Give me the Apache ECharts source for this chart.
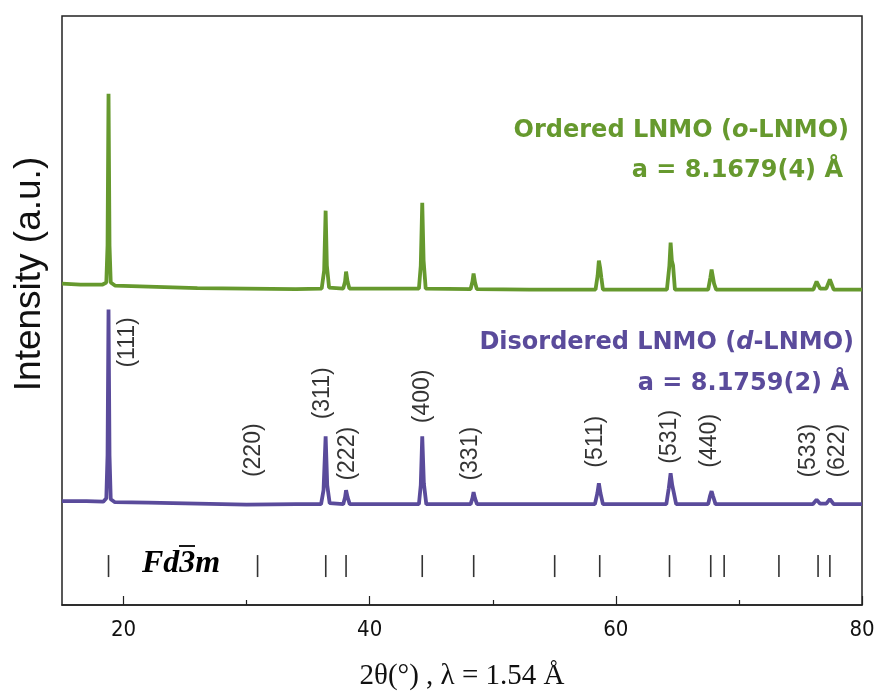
<!DOCTYPE html>
<html>
<head>
<meta charset="utf-8">
<script src="https://cdn.jsdelivr.net/npm/echarts@6/dist/echarts.min.js"></script>
<style>
  html, body { margin: 0; padding: 0; background: #fff; }
  #main { width: 882px; height: 696px; }
</style>
</head>
<body>
<div id="main"></div>
<script>
// XRD patterns, 2theta (deg) vs intensity (a.u., offset already in)
var orderedTheta = [15.0, 16.5, 18.3, 18.6, 18.7, 18.78, 18.86, 18.96, 19.3, 22, 26, 30, 34,
  36.1, 36.3, 36.42, 36.52, 36.7, 37.85, 38.0, 38.08, 38.2, 38.35,
  44.0, 44.15, 44.27, 44.38, 44.55, 48.2, 48.35, 48.44, 48.56, 48.7, 53,
  58.35, 58.52, 58.62, 58.72, 58.82, 58.95, 64.15, 64.35, 64.45, 64.55, 64.65, 64.8,
  67.5, 67.68, 67.78, 67.88, 67.98, 68.15, 72, 76.05, 76.31, 76.6, 77.1, 77.39, 77.7, 80];
var orderedInt = [322, 321, 321, 323, 360, 512, 360, 323, 320, 319, 317.5, 317, 316.5,
  317, 335, 395, 340, 318, 317, 324, 334, 324, 317,
  317, 340, 403, 345, 317, 316.5, 324, 332, 323, 316.5, 316,
  316, 330, 345, 338, 328, 316, 316, 340, 363, 345, 340, 316,
  316, 328, 336, 329, 322, 316, 316, 316, 324, 317, 317, 326, 316, 316];

var disorderedTheta = [15, 17, 18.35, 18.6, 18.7, 18.78, 18.86, 18.96, 19.3, 22, 26, 30, 34,
  36.05, 36.25, 36.42, 36.55, 36.75, 37.85, 38.0, 38.08, 38.2, 38.38,
  44.0, 44.15, 44.27, 44.4, 44.6, 48.2, 48.35, 48.44, 48.55, 48.72,
  58.3, 58.5, 58.62, 58.75, 58.95, 64.1, 64.3, 64.45, 64.58, 64.7, 64.9,
  67.5, 67.65, 67.78, 67.9, 68.1, 76.0, 76.31, 76.6, 77.1, 77.39, 77.7, 80];
var disorderedInt = [104, 104, 103.5, 107, 150, 296, 150, 106, 103, 102.5, 101.5, 100.5, 101,
  101, 115, 169, 120, 102, 101, 108, 115, 108, 101,
  101, 120, 169, 122, 101, 101, 107, 113, 107, 101,
  101, 112, 122, 112, 101, 101, 117, 132, 120, 113, 101,
  101, 109, 114, 109, 101, 101, 105.5, 101.5, 101.5, 106, 101, 101];

// Miller index labels (x, y in axis units)
var hklText = ['(111)', '(220)', '(311)', '(222)', '(400)', '(331)', '(511)', '(531)', '(440)', '(533)', '(622)'];
var hklX = [20.36, 30.6, 36.16, 38.23, 44.29, 48.2, 58.4, 64.4, 67.6, 75.7, 78.0];
var hklY = [263, 155, 212, 151.5, 209, 151.5, 163.5, 168.5, 164.5, 154.5, 154.5];

// Fd-3m reflection positions
var braggPos = [18.78, 30.89, 36.43, 38.08, 44.27, 48.45, 55.03, 58.69, 64.36, 67.71, 68.80, 73.25, 76.43, 77.39];

var majorTicks = [20, 40, 60, 80];
var minorTicks = [30, 50, 70];

var green = '#66992e';
var purple = '#5a4b9b';

function zip(a, b) {
  var out = [];
  for (let i = 0; i < a.length; i++) out.push([a[i], b[i]]);
  return out;
}

var hklData = [];
for (let i = 0; i < hklText.length; i++) hklData.push([hklX[i], hklY[i], hklText[i]]);

var chart = echarts.init(document.getElementById('main'));
var option = {
  animation: false,
  grid: {
    left: 62, right: 20, top: 16, bottom: 90,
    show: true, borderColor: '#222', borderWidth: 1.5
  },
  xAxis: [{
    type: 'value', min: 15, max: 80,
    name: '2θ(°) , λ = 1.54 Å',
    nameLocation: 'middle',
    nameGap: 57,
    nameTextStyle: { fontFamily: 'Liberation Serif', fontSize: 29, color: '#111' },
    axisLine: { show: true, lineStyle: { color: '#222', width: 1.5 } },
    axisTick: { show: true, inside: true, length: 9, customValues: majorTicks, lineStyle: { color: '#222', width: 1.2 } },
    axisLabel: {
      customValues: majorTicks, margin: 14,
      fontFamily: '"Liberation Sans Narrow", "DejaVu Sans Condensed", "Liberation Sans"',
      fontSize: 22, color: '#111'
    },
    splitLine: { show: false }
  }, {
    type: 'value', min: 15, max: 80, position: 'bottom',
    axisLine: { show: false },
    axisTick: { show: true, inside: true, length: 5, customValues: minorTicks, lineStyle: { color: '#222', width: 1.2 } },
    axisLabel: { show: false },
    splitLine: { show: false }
  }],
  yAxis: {
    type: 'value', min: 0, max: 590,
    axisLine: { show: false }, axisTick: { show: false },
    axisLabel: { show: false }, splitLine: { show: false }
  },
  series: [{
    type: 'line', name: 'o-LNMO', data: zip(orderedTheta, orderedInt),
    showSymbol: false, lineStyle: { color: green, width: 3.8 }, z: 3
  }, {
    type: 'line', name: 'd-LNMO', data: zip(disorderedTheta, disorderedInt),
    showSymbol: false, lineStyle: { color: purple, width: 3.8 }, z: 3
  }, {
    type: 'scatter', data: braggPos.map(function (p) { return [p, 39]; }),
    symbol: 'rect', symbolSize: [1.6, 22], itemStyle: { color: '#000' }
  }, {
    type: 'scatter', data: hklData, symbolSize: 0,
    label: {
      show: true, position: 'inside', rotate: 90,
      formatter: function (p) { return p.data[2]; },
      fontFamily: 'Liberation Sans', fontSize: 23, color: '#000'
    }
  }],
  graphic: [{
    type: 'text', x: 30, y: 274, rotation: Math.PI / 2,
    style: { text: 'Intensity (a.u.)', font: '37px "Liberation Sans"', fill: '#111', textAlign: 'center', textVerticalAlign: 'middle' }
  }, {
    type: 'text', x: 849, y: 131,
    style: {
      text: '{b|Ordered LNMO (}{i|o}{b|-LNMO)}', textAlign: 'right', textVerticalAlign: 'middle',
      rich: {
        b: { fontFamily: 'DejaVu Sans', fontWeight: 'bold', fontSize: 24, fill: green },
        i: { fontFamily: 'DejaVu Sans', fontWeight: 'bold', fontStyle: 'italic', fontSize: 24, fill: green }
      }
    }
  }, {
    type: 'text', x: 843, y: 171,
    style: { text: 'a = 8.1679(4) Å', font: 'bold 24px "DejaVu Sans"', fill: green, textAlign: 'right', textVerticalAlign: 'middle' }
  }, {
    type: 'text', x: 854, y: 343,
    style: {
      text: '{b|Disordered LNMO (}{i|d}{b|-LNMO)}', textAlign: 'right', textVerticalAlign: 'middle',
      rich: {
        b: { fontFamily: 'DejaVu Sans', fontWeight: 'bold', fontSize: 24, fill: purple },
        i: { fontFamily: 'DejaVu Sans', fontWeight: 'bold', fontStyle: 'italic', fontSize: 24, fill: purple }
      }
    }
  }, {
    type: 'text', x: 849, y: 384,
    style: { text: 'a = 8.1759(2) Å', font: 'bold 24px "DejaVu Sans"', fill: purple, textAlign: 'right', textVerticalAlign: 'middle' }
  }, {
    type: 'text', x: 142, y: 564,
    style: { text: 'Fd3m', font: 'italic bold 32px "Liberation Serif"', fill: '#000', textAlign: 'left', textVerticalAlign: 'middle' }
  }, {
    // bar over the 3 in Fd-3m
    type: 'line', shape: { x1: 179, y1: 546, x2: 195, y2: 546 },
    style: { stroke: '#000', lineWidth: 1.8 }
  }]
};
chart.setOption(option);
</script>
</body>
</html>
